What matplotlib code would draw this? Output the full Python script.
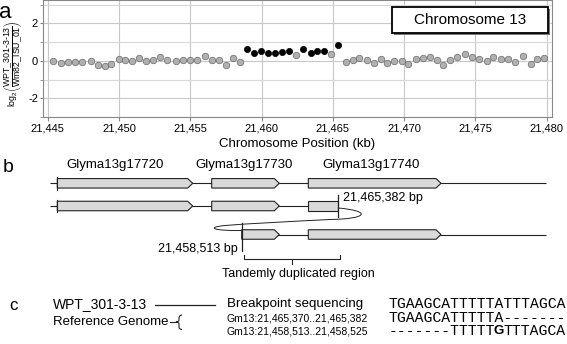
import numpy as np
import matplotlib
matplotlib.use('Agg')
import matplotlib.pyplot as plt
from matplotlib.patches import Polygon, Rectangle, PathPatch
from matplotlib.path import Path
from matplotlib.ticker import MultipleLocator, FuncFormatter

plt.rcParams['font.family'] = ['Liberation Sans', 'DejaVu Sans']
plt.rcParams['mathtext.fontset'] = 'custom'
plt.rcParams['mathtext.rm'] = 'Liberation Sans'
plt.rcParams['mathtext.it'] = 'Liberation Sans:italic'

# ---------------- Panel a data ----------------
pos_kb = [21445.39, 21445.91, 21446.40, 21446.91, 21447.43, 21448.02, 21448.53, 21449.00, 21449.46, 21449.98,
          21450.44, 21450.93, 21451.42, 21451.89, 21452.41, 21452.88, 21453.35, 21453.98, 21454.47, 21454.98,
          21455.47, 21456.01, 21456.50, 21456.99, 21457.50, 21458.02, 21458.51,
          21458.96, 21459.47, 21459.96, 21460.47, 21460.96, 21461.43, 21461.90,
          21462.41, 21462.90, 21463.44, 21463.91, 21464.40, 21464.87, 21465.38,
          21465.90, 21466.39, 21466.85, 21467.37, 21467.88, 21468.35, 21468.82, 21469.29, 21469.83, 21470.29,
          21470.81, 21471.30, 21471.81, 21472.28, 21472.74, 21473.21, 21473.72, 21474.26, 21474.73, 21475.25,
          21475.79, 21476.25, 21476.77, 21477.26, 21477.77, 21478.35, 21478.87, 21479.29, 21479.80]
log2_ratio = [0.0, -0.1, -0.05, -0.07, -0.07, 0.0, -0.22, -0.25, -0.15, 0.1,
              0.03, -0.03, 0.13, -0.02, 0.06, 0.18, 0.03, 0.0, 0.03, 0.02,
              0.02, 0.25, 0.05, 0.02, -0.2, 0.13, -0.07,
              0.64, 0.41, 0.55, 0.44, 0.43, 0.46, 0.5,
              0.32, 0.64, 0.41, 0.53, 0.53, 0.34, 0.82,
              -0.07, 0.05, 0.14, 0.02, -0.14, 0.09, -0.09, 0.0, -0.03, -0.18,
              0.11, 0.16, 0.18, 0.05, -0.2, 0.05, 0.2, 0.39, 0.18, 0.09,
              -0.03, 0.21, 0.09, 0.09, -0.05, 0.27, -0.18, 0.12, 0.16]
duplicated = [False] * 27 + [True, True, True, True, True, True, True,
                             False, True, True, True, True, False, True] + [False] * 29
x_ticks = [21445, 21450, 21455, 21460, 21465, 21470, 21475, 21480]
y_ticks = [-2, 0, 2]
chrom_label = "Chromosome 13"

# ---------------- Panel b data (diagram units) ----------------
gene_names = ["Glyma13g17720", "Glyma13g17730", "Glyma13g17740"]
gene_label_x = [115, 244, 371]
row_y = [183.3, 206.0, 234.5]
row_lines = [(50, 546), (50, 338.3), (241.7, 546)]
row_genes = [
    [(57.3, 192.7, True), (211.7, 279.3, True), (308.3, 441.0, True)],
    [(57.3, 192.7, True), (211.7, 279.3, True), (308.3, 338.3, False)],
    [(241.7, 279.3, True), (308.3, 441.0, True)],
]
bp_right_label = "21,465,382 bp"
bp_left_label = "21,458,513 bp"
dup_label = "Tandemly duplicated region"

# ---------------- Panel c data ----------------
sample_name = "WPT_301-3-13"
ref_name = "Reference Genome"
row_titles = ["Breakpoint sequencing", "Gm13:21,465,370..21,465,382", "Gm13:21,458,513..21,458,525"]
seqs = ["TGAAGCATTTTTATTTAGCA", "TGAAGCATTTTTA-------", "-------TTTTTGTTTAGCA"]
bold_base_index = 12

W, H = 567, 344
fig = plt.figure(figsize=(W / 100, H / 100), dpi=100)

# ---------------- Panel a ----------------
ax = fig.add_axes([43 / W, 1 - 117 / H, (552 - 43) / W, 117 / H])
ax.set_xlim(21444.67, 21480.37)
ax.set_ylim(-3.0, 3.25)
gx = [p for p, d in zip(pos_kb, duplicated) if not d]
gy = [v for v, d in zip(log2_ratio, duplicated) if not d]
bx = [p for p, d in zip(pos_kb, duplicated) if d]
by = [v for v, d in zip(log2_ratio, duplicated) if d]
ax.scatter(gx, gy, s=22, c='#b0b0b0', edgecolors='#6a6a6a', linewidths=0.5, zorder=3)
ax.scatter(bx, by, s=20, c='black', edgecolors='black', linewidths=0.5, zorder=3)
ax.set_xticks(x_ticks)
ax.xaxis.set_major_formatter(FuncFormatter(lambda v, p: f"{int(round(v)):,}"))
ax.set_yticks(y_ticks)
ax.yaxis.set_major_formatter(FuncFormatter(lambda v, p: f"{int(round(v))}"))
ax.yaxis.set_minor_locator(MultipleLocator(1))
ax.grid(True, which='major', color='#c8c8c8', lw=0.8)
ax.grid(True, which='minor', axis='y', color='#d8d8d8', lw=0.8)
ax.set_axisbelow(True)
for s in ax.spines.values():
    s.set_color('#888888')
    s.set_linewidth(0.8)
ax.tick_params(axis='both', which='both', length=3, color='#888888', labelsize=8, pad=2)
ax.tick_params(axis='y', which='both', length=2, pad=1.5)
ax.set_xlabel("Chromosome Position (kb)", fontsize=9.5, labelpad=3)
ax.set_ylabel(r'$\mathrm{log}_2\left(\dfrac{\mathrm{WPT\_301}\text{-}\mathrm{3}\text{-}\mathrm{13}}{\mathrm{Wm82\_ISU\_01}}\right)$',
              fontsize=6.3)
ax.yaxis.set_label_coords(-0.035, 0.455)

# ---------------- overlay for diagram ----------------
ov = fig.add_axes([0, 0, 1, 1])
ov.set_xlim(0, W)
ov.set_ylim(H, 0)
ov.axis('off')
ov.patch.set_alpha(0)

# chromosome box with shadow
ov.add_patch(Rectangle((393.7, 8.7), 156.3, 26.6, facecolor='#777777', edgecolor='none', zorder=4))
ov.add_patch(Rectangle((391.7, 6.7), 156.3, 26.6, facecolor='white', edgecolor='black', lw=1.3, zorder=5))
ov.text(469.8, 20, chrom_label, fontsize=11, ha='center', va='center', zorder=6)

# panel letters
ov.text(5, 12, 'a', fontsize=16, ha='center', va='center')
ov.text(8, 167, 'b', fontsize=14, ha='center', va='center')
ov.text(13, 306, 'c', fontsize=12, ha='center', va='center')

# gene labels
for name, gxl in zip(gene_names, gene_label_x):
    ov.text(gxl, 165, name, fontsize=9.5, ha='center', va='center')

lc = '#222222'
gh = 9.5
head = 5
for yc, (l0, l1), genes in zip(row_y, row_lines, row_genes):
    ov.plot([l0, l1], [yc, yc], color=lc, lw=0.8, zorder=1, solid_capstyle='butt')
    for (x0, x1, arrow) in genes:
        if arrow:
            pts = [(x0, yc - gh / 2), (x1 - head, yc - gh / 2), (x1, yc),
                   (x1 - head, yc + gh / 2), (x0, yc + gh / 2)]
        else:
            pts = [(x0, yc - gh / 2), (x1, yc - gh / 2), (x1, yc + gh / 2), (x0, yc + gh / 2)]
        ov.add_patch(Polygon(pts, closed=True, facecolor='#d9d9d9', edgecolor=lc, lw=0.8, zorder=2))
    if genes[0][0] < 60:
        ov.plot([genes[0][0]] * 2, [yc - gh / 2 - 1.5, yc + gh / 2 + 1.5], color=lc, lw=0.8, zorder=3)

# breakpoint vertical marks
ov.plot([338.3, 338.3], [195, 216.7], color=lc, lw=0.9, zorder=3)
ov.plot([241.7, 241.7], [223, 251], color=lc, lw=0.9, zorder=3)
ov.text(343.3, 198.3, bp_right_label, fontsize=9, ha='left', va='center')
ov.text(238, 249, bp_left_label, fontsize=9, ha='right', va='center')

# folding loop
verts = [(338.3, 208), (372, 211), (368, 219), (330, 219.5),
         (290, 221.5), (250, 223.5), (225, 225.5),
         (205, 227.5), (214, 231), (241.7, 230.5)]
codes = [Path.MOVETO] + [Path.CURVE4] * 9
ov.add_patch(PathPatch(Path(verts, codes), facecolor='none', edgecolor=lc, lw=0.7, zorder=1))

# bracket
ov.plot([243.5, 243.5, 339.5, 339.5], [255, 259.3, 259.3, 255], color=lc, lw=0.8)
ov.plot([291.5, 291.5], [259.3, 263.5], color=lc, lw=0.8)
ov.text(298, 273.5, dup_label, fontsize=9, ha='center', va='center')

# ---------------- Panel c ----------------
ov.text(53, 304, sample_name, fontsize=10, ha='left', va='center')
ov.plot([155, 215], [305, 305], color=lc, lw=0.9)
ov.text(53, 322, ref_name, fontsize=9.5, ha='left', va='center')
ov.plot([170, 176], [322, 322], color=lc, lw=0.8)
bverts = [(182, 315), (179, 315), (179, 318), (179, 320), (179, 322), (176, 322),
          (179, 322), (179, 324), (179, 327), (179, 329.5), (182, 329.5)]
bcodes = [Path.MOVETO, Path.CURVE3, Path.CURVE3, Path.LINETO, Path.CURVE3, Path.CURVE3,
          Path.CURVE3, Path.CURVE3, Path.LINETO, Path.CURVE3, Path.CURVE3]
ov.add_patch(PathPatch(Path(bverts, bcodes), facecolor='none', edgecolor=lc, lw=0.8))

ys = [303.5, 318.5, 331]
sizes = [9.6, 7.5, 7.5]
for t, y, fs in zip(row_titles, ys, sizes):
    ov.text(226.7, y, t, fontsize=fs, ha='left', va='center')

mono_fs = 10.6
charw = 0.6 * mono_fs * 100 / 72
seq_x = 388.3
for i, (sq, y) in enumerate(zip(seqs, ys)):
    if i == 2:
        ov.text(seq_x, y, sq[:bold_base_index], fontsize=mono_fs, family='Liberation Mono', ha='left', va='center')
        ov.text(seq_x + bold_base_index * charw + charw / 2, y, sq[bold_base_index], fontsize=mono_fs - 1,
                family='Liberation Sans', weight='bold', ha='center', va='center')
        ov.text(seq_x + (bold_base_index + 1) * charw, y, sq[bold_base_index + 1:], fontsize=mono_fs,
                family='Liberation Mono', ha='left', va='center')
    else:
        ov.text(seq_x, y, sq, fontsize=mono_fs, family='Liberation Mono', ha='left', va='center')

fig.savefig('out.png', dpi=100)
